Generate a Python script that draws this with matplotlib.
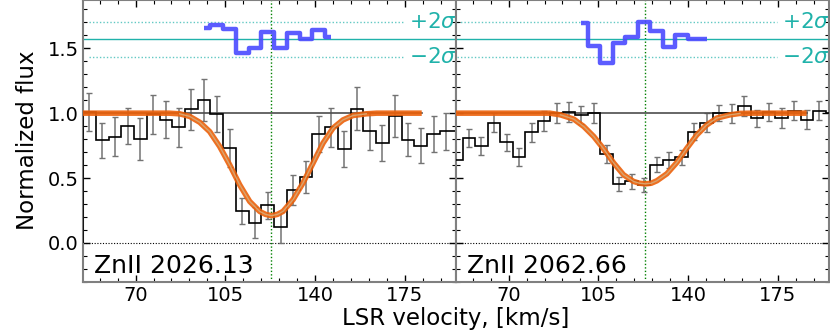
import matplotlib
matplotlib.use("Agg")
import matplotlib.pyplot as plt
from matplotlib.ticker import MultipleLocator

# ---------------- ZnII 2026.13 (left panel) ----------------
vel_2026 = [52.0, 57.0, 62.0, 66.9, 71.9, 76.9, 81.8, 86.8, 91.8, 96.7,
            101.7, 106.7, 111.7, 116.6, 121.6, 126.6, 131.5, 136.5, 141.5, 146.4,
            151.4, 156.4, 161.3, 166.3, 171.3, 176.3, 181.2, 186.2, 191.2, 196.1]
flux_2026 = [1.01, 0.79, 0.82, 0.90, 0.80, 0.99, 0.95, 0.89, 1.03, 1.10,
             0.995, 0.73, 0.245, 0.155, 0.29, 0.12, 0.405, 0.51, 0.84, 0.89,
             0.725, 1.035, 0.86, 0.77, 0.98, 0.795, 0.75, 0.84, 0.86, 0.86]
err_2026 = [0.147, 0.135, 0.149, 0.141, 0.16, 0.15, 0.144, 0.147, 0.156, 0.164,
            0.14, 0.145, 0.10, 0.12, 0.105, 0.12, 0.115, 0.124, 0.14, 0.147,
            0.14, 0.167, 0.147, 0.14, 0.16, 0.128, 0.132, 0.141, 0.143, 0.14]
resid_vel_2026 = [96.7, 101.7, 106.7, 111.7, 116.6, 121.6, 126.6, 131.5, 136.5, 141.5, 146.4]
resid_2026 = [1.658, 1.679, 1.646, 1.466, 1.505, 1.623, 1.50, 1.615, 1.569, 1.64, 1.585]
model_vel_2026 = [45.0, 83.0, 87.2, 91.1, 95.0, 98.9, 102.8, 106.7, 110.6, 114.5,
                  118.4, 120.7, 123.0, 125.3, 127.5, 131.4, 135.3, 139.2, 143.1, 147.0,
                  150.9, 154.8, 160.0, 164.0, 181.6]
model_2026 = [1.0, 1.0, 0.995, 0.975, 0.93, 0.858, 0.743, 0.602, 0.448, 0.32,
              0.243, 0.22, 0.21, 0.22, 0.243, 0.333, 0.462, 0.615, 0.769, 0.885,
              0.948, 0.982, 0.995, 1.0, 1.0]

# ---------------- ZnII 2062.66 (right panel) ----------------
vel_2062 = [49.7, 54.6, 59.4, 64.3, 69.2, 74.1, 79.0, 83.9, 88.7, 93.6,
            98.4, 103.4, 108.2, 113.1, 118.0, 122.9, 127.7, 132.6, 137.5, 142.4,
            147.2, 152.1, 157.0, 161.9, 166.8, 171.6, 176.5, 181.4, 186.3, 191.2, 196.0]
flux_2062 = [0.64, 0.808, 0.748, 0.928, 0.774, 0.66, 0.851, 0.943, 1.0, 1.012,
             0.987, 1.0, 0.687, 0.456, 0.474, 0.448, 0.602, 0.64, 0.66, 0.858,
             0.928, 1.0, 1.0, 1.056, 0.96, 1.012, 0.96, 1.02, 0.95, 1.02, 1.0]
err_2062 = [0.07, 0.07, 0.068, 0.07, 0.064, 0.068, 0.077, 0.077, 0.077, 0.077,
            0.067, 0.077, 0.07, 0.054, 0.058, 0.055, 0.059, 0.06, 0.058, 0.064,
            0.073, 0.064, 0.072, 0.077, 0.064, 0.069, 0.077, 0.072, 0.072, 0.07, 0.07]
resid_vel_2062 = [98.4, 103.4, 108.2, 113.1, 118.0, 122.9, 127.7, 132.6, 137.5, 142.4, 147.2]
resid_2062 = [1.692, 1.52, 1.389, 1.543, 1.585, 1.705, 1.635, 1.512, 1.60, 1.572, 1.572]
model_vel_2062 = [45.0, 86.0, 90.2, 95.4, 99.3, 103.2, 107.1, 111.0, 114.8, 118.7,
                  121.0, 123.3, 125.6, 127.8, 131.7, 135.6, 139.5, 143.4, 147.3, 151.2,
                  156.3, 160.2, 165.0, 186.2]
model_2062 = [1.0, 1.0, 0.987, 0.954, 0.897, 0.82, 0.723, 0.615, 0.525, 0.474,
              0.46, 0.455, 0.46, 0.479, 0.533, 0.62, 0.73, 0.833, 0.91, 0.962,
              0.987, 0.998, 1.0, 1.0]

line_names = ["ZnII 2026.13", "ZnII 2062.66"]
v_center = 123.0
resid_zero = 1.569
resid_2sig = 0.137

SEA = "lightseagreen"
ORANGE = "#ec600a"


def bin_edges(v):
    mids = [(a + b) / 2 for a, b in zip(v[:-1], v[1:])]
    return [v[0] - (v[1] - v[0]) / 2] + mids + [v[-1] + (v[-1] - v[-2]) / 2]


def panel(ax, vel, flux, err, first, rvel, resid, mvel, model, name, dot_start):
    # data histogram + errors
    ax.stairs(flux, bin_edges(vel), color="k", lw=1.2, zorder=3)
    eb = ax.errorbar(vel[first:first + 29], flux[first:first + 29], yerr=err[first:first + 29],
                     fmt="none", ecolor="0.45", elinewidth=1.1, capsize=2.5, zorder=2)
    for cl in eb[1]:
        cl.set_color("k")

    # continuum, zero level and line centre
    ax.plot([45, mvel[-1]], [1, 1], color="0.3", lw=1.2, zorder=2)
    ax.axhline(0, color="k", lw=0.8, ls=(0, (1, 1.5)), zorder=1)
    ax.axvline(v_center, color="green", lw=1, ls=(0, (1, 1.5)), zorder=1)

    # model profile
    ax.plot(mvel, model, color=ORANGE, lw=4, alpha=0.9, solid_capstyle="butt", zorder=4)
    inner = [i for i in range(len(mvel)) if 86 < mvel[i] < 162]
    ax.plot([mvel[i] for i in inner], [model[i] for i in inner], color="#d9a46e", lw=1, zorder=5)

    # residuals
    ax.axhline(resid_zero, color=SEA, lw=1, zorder=1)
    for s in (1, -1):
        ax.plot([dot_start, 174.5], [resid_zero + s * resid_2sig] * 2, color=SEA, alpha=0.7,
                lw=1, ls=(0, (1, 1.5)), zorder=1)
    ax.step(rvel, resid, where="mid", color="#4a4aff", lw=3.2, alpha=0.9,
            solid_capstyle="butt", zorder=4)
    ax.text(176.5, resid_zero + resid_2sig, r"$+2\sigma$", color=SEA, fontsize=15.5, va="center", clip_on=False)
    ax.text(176.5, resid_zero - resid_2sig, r"$-2\sigma$", color=SEA, fontsize=15.5, va="center", clip_on=False)

    ax.text(0.03, 0.033, name, transform=ax.transAxes, fontsize=18, va="baseline", zorder=6)

    ax.set_xlim(49.5, 195)
    ax.set_ylim(-0.3, 1.872)
    ax.xaxis.set_major_locator(MultipleLocator(35))
    ax.xaxis.set_minor_locator(MultipleLocator(7))
    ax.yaxis.set_major_locator(MultipleLocator(0.5))
    ax.yaxis.set_minor_locator(MultipleLocator(0.1))
    ax.tick_params(which="both", direction="in", top=True, right=True, labelsize=14, pad=3)
    ax.tick_params(which="major", length=5, width=1)
    ax.tick_params(which="minor", length=3, width=0.8)
    for sp in ax.spines.values():
        sp.set_color("0.5")
        sp.set_linewidth(1.5)


fig, (ax1, ax2) = plt.subplots(1, 2, figsize=(8.3, 3.32), dpi=100, sharey=True)
plt.subplots_adjust(left=0.1, right=0.999, top=1.0, bottom=0.151, wspace=0)

panel(ax1, vel_2026, flux_2026, err_2026, 0, resid_vel_2026, resid_2026,
      model_vel_2026, model_2026, line_names[0], 52.0)
panel(ax2, vel_2062, flux_2062, err_2062, 1, resid_vel_2062, resid_2062,
      model_vel_2062, model_2062, line_names[1], 49.7)
ax2.tick_params(labelleft=False)

fig.text(456 / 830, 0.005, "LSR velocity, [km/s]", ha="center", va="bottom", fontsize=16.5)
fig.text(27 / 830, 0.578, "Normalized flux", ha="center", va="center", rotation=90, fontsize=16.5)

fig.savefig("out.png", dpi=100)
